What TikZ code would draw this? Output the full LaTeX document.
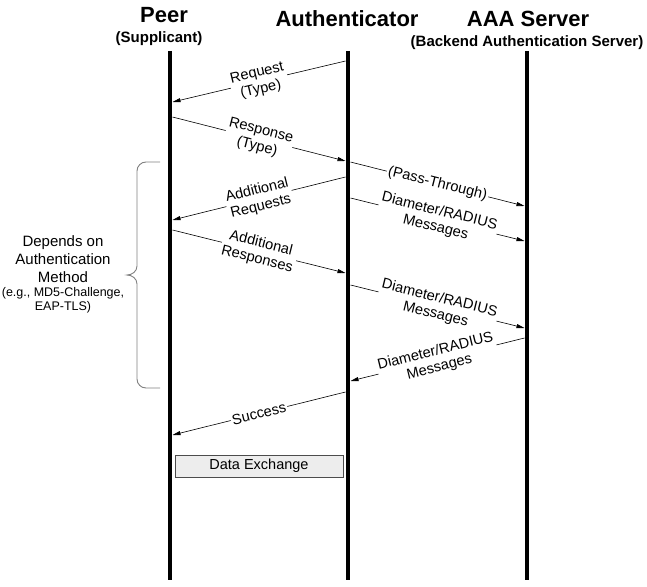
\documentclass[tikz,border=0pt]{standalone}
\usepackage{fontspec}
\setmainfont{Liberation Sans}
\usetikzlibrary{positioning, arrows.meta, calc}

\begin{document}
\begin{tikzpicture}[
        x=1pt, y=-1pt,
        >={Triangle[length=8pt, width=4pt]},
        title/.style={font=\fontsize{22}{24}\selectfont\bfseries, anchor=base, inner sep=0pt},
        subtitle/.style={font=\fontsize{15}{17}\selectfont\bfseries, anchor=base, inner sep=0pt},
        lifeline/.style={line width=4.5pt},
        msg/.style={->, line width=0.6pt},
        lbl/.style={sloped, fill=white, align=center, inner sep=1.5pt, font=\fontsize{14.6}{16.5}\selectfont},
        note/.style={align=center, inner sep=0pt},
        bracket/.style={draw=black!50, line width=0.9pt},
        databox/.style={draw=black!70, fill=black!7, line width=0.7pt, minimum width=168pt, minimum height=22pt, inner sep=0pt, font=\fontsize{14.5}{16}\selectfont},
    ]
        \useasboundingbox (0,0) rectangle (647,586);

        % Draw the entity titles
        \node[title] (peer) at (164,23) {Peer};
        \node[subtitle] (peer-sub) at (159,42) {(Supplicant)};
        \node[title] (auth) at (347,27) {Authenticator};
        \node[title] (aaa) at (528,27) {AAA Server};
        \node[subtitle] (aaa-sub) at (527,46) {(Backend Authentication Server)};

        % Draw the lifelines
        \foreach \name / \x in {peer/170, auth/348, aaa/527} {
            \coordinate (\name-top) at (\x,51);
            \coordinate (\name-bot) at (\x,580);
            \draw[lifeline] (\name-top) -- (\name-bot);
        }

        % Message end points
        \foreach \name / \xa / \ya / \xb / \yb in {
                req/345.5/61/172.5/102, resp/172.5/117/345.5/161,
                pass/350.5/162/524.5/206, addreq/345.5/177/172.5/220,
                diaA/350.5/198/524.5/241, addresp/172.5/230/345.5/273,
                diaB/350.5/285/524.5/328, diaC/524.5/338/350.5/381,
                succ/345.5/392/172.5/435} {
            \coordinate (\name-a) at (\xa,\ya);
            \coordinate (\name-b) at (\xb,\yb);
        }

        % Draw the messages
        \draw[msg] (req-a) -- node[lbl] {Request\\(Type)} (req-b);
        \draw[msg] (resp-a) -- node[lbl] {Response\\(Type)} (resp-b);
        \draw[msg] (pass-a) -- node[lbl] {(Pass-Through)} (pass-b);
        \draw[msg] (addreq-a) -- node[lbl] {Additional\\Requests} (addreq-b);
        \draw[msg] (diaA-a) -- node[lbl] {Diameter/RADIUS\\Messages} (diaA-b);
        \draw[msg] (addresp-a) -- node[lbl] {Additional\\Responses} (addresp-b);
        \draw[msg] (diaB-a) -- node[lbl] {Diameter/RADIUS\\Messages} (diaB-b);
        \draw[msg] (diaC-a) -- node[lbl] {Diameter/RADIUS\\Messages} (diaC-b);
        \draw[msg] (succ-a) -- node[lbl] {Success} (succ-b);

        % Data exchange box
        \node[databox] (data) at (259,466) {Data Exchange};

        % Draw the bracket and its note
        \draw[bracket] (160,162) -- (146,162) to[out=180, in=90] (137,171)
            -- (137,266) to[out=-90, in=0] (127,275) to[out=0, in=90] (137,284)
            -- (137,379) to[out=-90, in=180] (146,388) -- (160,388);
        \node[note, font=\fontsize{15}{18}\selectfont] (method) at (63,259) {Depends on\\Authentication\\Method};
        \node[note, font=\fontsize{12.5}{14}\selectfont, below=5pt of method] (examples) {(e.g., MD5-Challenge,\\EAP-TLS)};
    \end{tikzpicture}
\end{document}
